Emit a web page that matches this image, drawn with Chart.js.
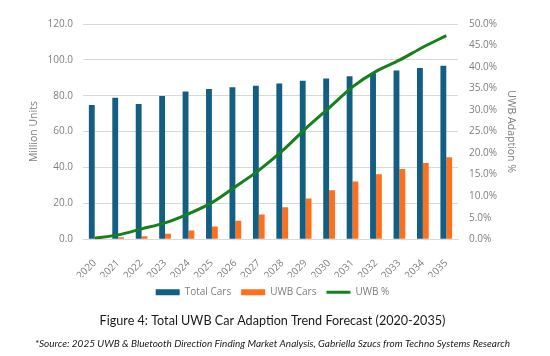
<!DOCTYPE html>
<html><head><meta charset="utf-8">
<script src="https://cdn.jsdelivr.net/npm/chart.js@4.4.1/dist/chart.umd.min.js"></script>
<style>html,body{margin:0;padding:0;background:#fff}#wrap{width:550px;height:356px;position:relative}</style>
</head><body><div id="wrap"><canvas id="c" width="550" height="356"></canvas></div>
<script>
const years = ['2020','2021','2022','2023','2024','2025','2026','2027','2028','2029','2030','2031','2032','2033','2034','2035'];
const totalCars = [74.8,78.9,75.4,79.9,82.3,83.8,84.7,85.6,86.8,88.3,89.6,90.9,92.5,94.0,95.4,96.7];
const uwbCars = [0.2,1.1,1.7,3.0,4.8,7.1,10.3,13.7,17.8,22.7,27.3,32.2,36.2,39.1,42.5,45.7];
const uwbPct = [0.2,1.0,2.4,3.8,5.9,8.5,12.2,16.0,20.5,25.7,30.5,35.4,39.0,41.6,44.6,47.3];
const leftTicks = [0,20,40,60,80,100,120];
const rightTicks = [0,5,10,15,20,25,30,35,40,45,50];

const gray = '#7f7f7f';
const axisFont = '"Open Sans", sans-serif';
Chart.defaults.font.family = axisFont;
Chart.defaults.color = gray;

new Chart(document.getElementById('c'), {
  data: {
    labels: years,
    datasets: [
      {type:'bar', label:'Total Cars', data: totalCars, backgroundColor:'#135f84', yAxisID:'y', order:2, pointStyle:'rect', categoryPercentage:0.5, barPercentage:1.0},
      {type:'bar', label:'UWB Cars', data: uwbCars, backgroundColor:'#ff6f1c', yAxisID:'y', order:2, pointStyle:'rect', categoryPercentage:0.5, barPercentage:1.0},
      {type:'line', label:'UWB %', data: uwbPct, borderColor:'#16801c', backgroundColor:'#16801c', borderWidth:3, pointRadius:0, tension:0.3, yAxisID:'y1', order:0, pointStyle:'line'}
    ]
  },
  options: {
    responsive:false, animation:false,
    layout:{padding:{left:28,right:33,top:24,bottom:0}},
    plugins:{
      tooltip:{enabled:false},
      legend:{position:'bottom', labels:{usePointStyle:true, pointStyleWidth:24, boxHeight:6, font:{size:10}, color:gray, padding:10, sort:(a,b)=>a.datasetIndex-b.datasetIndex}},
      subtitle:{display:true, position:'bottom', text:'Figure 4: Total UWB Car Adaption Trend Forecast (2020-2035)', color:'#1a1a1a', font:{family:'Lato, sans-serif', size:12.6, weight:'normal'}, padding:{top:6,bottom:3.7}},
      title:{display:true, position:'bottom', text:'*Source: 2025 UWB & Bluetooth Direction Finding Market Analysis, Gabriella Szucs from Techno Systems Research', color:'#1a1a1a', font:{family:'Lato, sans-serif', size:10, style:'italic', weight:'normal'}, padding:{top:6,bottom:6}}
    },
    scales:{
      x:{grid:{display:false}, border:{color:'#d9d9d9'}, afterFit:(ax)=>{ax.height = 38;}, ticks:{maxRotation:45, minRotation:45, font:{size:10}, color:gray, padding:10}},
      y:{position:'left', min:0, max:120, afterFit:(ax)=>{ax.width = 55;}, afterBuildTicks:(ax)=>{ax.ticks = leftTicks.map(v=>({value:v}));}, ticks:{callback:v=>v.toFixed(1), font:{size:10}, color:gray, padding:10}, grid:{color:'#d9d9d9', drawTicks:false}, border:{display:false},
         title:{display:true, text:'Million Units', color:gray, font:{size:10.5}, padding:0}},
      y1:{position:'right', min:0, max:50, afterFit:(ax)=>{ax.width = 59;}, afterBuildTicks:(ax)=>{ax.ticks = rightTicks.map(v=>({value:v}));}, ticks:{callback:v=>v.toFixed(1)+'%', font:{size:10}, color:gray, padding:11}, grid:{display:false, drawTicks:false}, border:{display:false},
         title:{display:true, text:'UWB Adaption %', color:gray, font:{size:10.5}, padding:0}}
    }
  }
});
</script></body></html>
